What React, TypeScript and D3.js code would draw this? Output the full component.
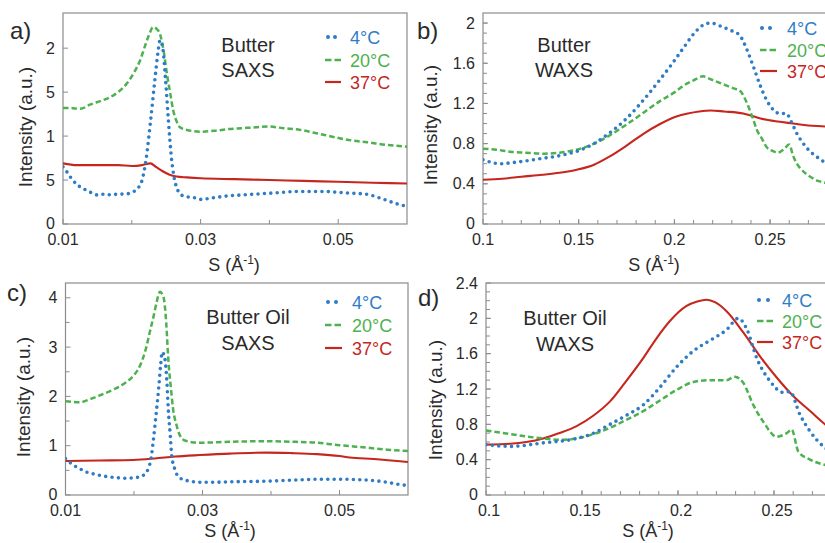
import React from 'react';
import * as d3 from 'd3';

type Pt = [number, number];

// ---------- Data (S in 1/Å, intensity in a.u.) ----------
const aBlue: Pt[] = [[0.0100,0.65],[0.0105,0.60],[0.0112,0.52],[0.0120,0.45],[0.0130,0.40],[0.0140,0.36],[0.0150,0.33],[0.0160,0.34],[0.0170,0.33],[0.0180,0.34],[0.0190,0.34],[0.0200,0.36],[0.0208,0.40],[0.0215,0.50],[0.0221,0.75],[0.0227,1.15],[0.0233,1.60],[0.0238,1.95],[0.0241,2.09],[0.0245,2.00],[0.0249,1.65],[0.0253,1.20],[0.0257,0.80],[0.0261,0.55],[0.0266,0.40],[0.0272,0.33],[0.0280,0.31],[0.0290,0.30],[0.0300,0.28],[0.0320,0.30],[0.0340,0.32],[0.0360,0.33],[0.0380,0.34],[0.0400,0.35],[0.0420,0.36],[0.0440,0.37],[0.0460,0.37],[0.0480,0.37],[0.0500,0.36],[0.0520,0.35],[0.0540,0.34],[0.0555,0.31],[0.0570,0.27],[0.0585,0.23],[0.0600,0.20]];
const aGreen: Pt[] = [[0.0100,1.32],[0.0110,1.32],[0.0125,1.31],[0.0140,1.36],[0.0155,1.40],[0.0168,1.44],[0.0180,1.50],[0.0193,1.60],[0.0203,1.72],[0.0212,1.86],[0.0219,2.02],[0.0225,2.15],[0.0231,2.24],[0.0236,2.22],[0.0241,2.16],[0.0246,1.98],[0.0251,1.71],[0.0256,1.48],[0.0260,1.30],[0.0265,1.17],[0.0270,1.10],[0.0280,1.07],[0.0300,1.05],[0.0320,1.06],[0.0340,1.08],[0.0360,1.09],[0.0380,1.10],[0.0397,1.11],[0.0420,1.09],[0.0445,1.07],[0.0470,1.03],[0.0493,0.99],[0.0520,0.95],[0.0542,0.93],[0.0570,0.90],[0.0600,0.88]];
const aRed: Pt[] = [[0.0100,0.69],[0.0120,0.67],[0.0150,0.67],[0.0180,0.67],[0.0200,0.66],[0.0215,0.67],[0.0227,0.69],[0.0235,0.65],[0.0245,0.60],[0.0255,0.56],[0.0265,0.54],[0.0280,0.53],[0.0300,0.52],[0.0350,0.51],[0.0400,0.50],[0.0450,0.49],[0.0500,0.48],[0.0550,0.47],[0.0600,0.46]];

const bBlue: Pt[] = [[0.100,0.64],[0.105,0.61],[0.109,0.60],[0.115,0.61],[0.123,0.63],[0.130,0.65],[0.140,0.68],[0.150,0.73],[0.158,0.80],[0.165,0.89],[0.175,1.05],[0.185,1.26],[0.193,1.45],[0.199,1.60],[0.205,1.76],[0.210,1.89],[0.215,1.98],[0.219,2.00],[0.224,1.97],[0.229,1.93],[0.234,1.88],[0.238,1.73],[0.241,1.58],[0.245,1.37],[0.248,1.24],[0.252,1.13],[0.255,1.10],[0.2585,1.10],[0.261,1.02],[0.264,0.90],[0.267,0.81],[0.271,0.72],[0.275,0.66],[0.278,0.62],[0.284,0.56]];
const bGreen: Pt[] = [[0.100,0.75],[0.107,0.74],[0.114,0.72],[0.122,0.71],[0.132,0.70],[0.140,0.71],[0.149,0.74],[0.158,0.80],[0.166,0.88],[0.175,0.99],[0.184,1.11],[0.193,1.23],[0.200,1.31],[0.205,1.38],[0.210,1.43],[0.215,1.47],[0.219,1.44],[0.223,1.41],[0.227,1.38],[0.231,1.35],[0.234,1.33],[0.238,1.20],[0.241,1.05],[0.243,0.94],[0.246,0.84],[0.248,0.77],[0.251,0.73],[0.254,0.71],[0.257,0.74],[0.260,0.79],[0.262,0.68],[0.264,0.60],[0.267,0.53],[0.271,0.47],[0.275,0.43],[0.279,0.41],[0.284,0.38]];
const bRed: Pt[] = [[0.100,0.44],[0.110,0.45],[0.120,0.47],[0.131,0.49],[0.140,0.51],[0.149,0.54],[0.158,0.59],[0.166,0.67],[0.175,0.78],[0.184,0.90],[0.192,0.99],[0.201,1.07],[0.207,1.10],[0.213,1.12],[0.219,1.13],[0.226,1.12],[0.236,1.10],[0.245,1.05],[0.254,1.02],[0.262,1.00],[0.270,0.98],[0.279,0.97],[0.284,0.96]];

const cBlue: Pt[] = [[0.0100,0.74],[0.0110,0.62],[0.0120,0.54],[0.0130,0.47],[0.0140,0.43],[0.0150,0.40],[0.0162,0.37],[0.0175,0.35],[0.0190,0.34],[0.0200,0.35],[0.0209,0.37],[0.0216,0.43],[0.0221,0.54],[0.0225,0.75],[0.0228,1.08],[0.0232,1.60],[0.0236,2.16],[0.0239,2.65],[0.0241,2.90],[0.0245,2.77],[0.0248,2.30],[0.0250,1.75],[0.0253,1.20],[0.0255,0.81],[0.0259,0.55],[0.0265,0.37],[0.0275,0.30],[0.0296,0.26],[0.0320,0.26],[0.0350,0.27],[0.0394,0.28],[0.0430,0.30],[0.0470,0.32],[0.0500,0.32],[0.0530,0.31],[0.0564,0.27],[0.0585,0.22],[0.0600,0.19]];
const cGreen: Pt[] = [[0.0100,1.90],[0.0121,1.88],[0.0135,1.94],[0.0150,2.02],[0.0170,2.14],[0.0189,2.29],[0.0200,2.43],[0.0209,2.63],[0.0217,2.95],[0.0223,3.30],[0.0229,3.65],[0.0233,3.91],[0.0238,4.12],[0.0241,4.08],[0.0244,3.95],[0.0247,3.50],[0.0250,2.77],[0.0254,2.15],[0.0257,1.75],[0.0262,1.42],[0.0267,1.21],[0.0275,1.10],[0.0296,1.06],[0.0340,1.08],[0.0394,1.09],[0.0430,1.08],[0.0467,1.06],[0.0500,1.01],[0.0540,0.96],[0.0570,0.92],[0.0600,0.89]];
const cRed: Pt[] = [[0.0100,0.69],[0.0150,0.70],[0.0199,0.71],[0.0230,0.74],[0.0260,0.78],[0.0296,0.81],[0.0340,0.84],[0.0394,0.86],[0.0430,0.85],[0.0467,0.83],[0.0500,0.79],[0.0515,0.76],[0.0550,0.73],[0.0600,0.67]];

const dBlue: Pt[] = [[0.100,0.57],[0.1125,0.55],[0.1298,0.59],[0.1472,0.64],[0.156,0.70],[0.1646,0.80],[0.173,0.90],[0.1819,1.02],[0.1906,1.22],[0.1993,1.45],[0.208,1.63],[0.2167,1.75],[0.2253,1.87],[0.2314,2.00],[0.2358,1.88],[0.241,1.55],[0.2479,1.29],[0.2549,1.16],[0.2583,1.17],[0.2635,0.91],[0.2688,0.72],[0.2757,0.55],[0.284,0.45]];
const dGreen: Pt[] = [[0.100,0.73],[0.1125,0.69],[0.1298,0.64],[0.1385,0.625],[0.1472,0.64],[0.156,0.69],[0.1646,0.76],[0.173,0.85],[0.1819,0.95],[0.1906,1.07],[0.1993,1.19],[0.208,1.28],[0.2167,1.30],[0.2253,1.30],[0.2295,1.34],[0.234,1.27],[0.2392,1.02],[0.2444,0.83],[0.2514,0.66],[0.2566,0.70],[0.2592,0.74],[0.2627,0.49],[0.2688,0.40],[0.2766,0.34],[0.284,0.31]];
const dRed: Pt[] = [[0.100,0.57],[0.1125,0.58],[0.121,0.60],[0.1298,0.64],[0.138,0.70],[0.1472,0.78],[0.156,0.90],[0.1646,1.06],[0.173,1.29],[0.1819,1.55],[0.189,1.78],[0.1958,1.97],[0.2045,2.14],[0.2100,2.19],[0.2150,2.21],[0.2195,2.18],[0.2253,2.08],[0.234,1.84],[0.2427,1.57],[0.2514,1.33],[0.260,1.12],[0.2688,0.95],[0.2766,0.80],[0.284,0.70]];

const legendLabels = ['4\u00B0C', '20\u00B0C', '37\u00B0C'];
const saxsXTicks = [0.01, 0.03, 0.05];
const saxsXLabels = ['0.01', '0.03', '0.05'];
const waxsXTicks = [0.1, 0.15, 0.2, 0.25];
const waxsXLabels = ['0.1', '0.15', '0.2', '0.25'];
const aYTicks = [0, 0.5, 1, 1.5, 2];
const aYLabels = ['0', '5', '1', '5', '2'];
const bYTicks = [0, 0.4, 0.8, 1.2, 1.6, 2];
const bYLabels = ['0', '0.4', '0.8', '1.2', '1.6', '2'];
const cYTicks = [0, 1, 2, 3, 4];
const cYLabels = ['0', '1', '2', '3', '4'];
const dYTicks = [0, 0.4, 0.8, 1.2, 1.6, 2, 2.4];
const dYLabels = ['0', '0.4', '0.8', '1.2', '1.6', '2', '2.4'];

const BLUE = '#2f7cc6';
const GREEN = '#4db14f';
const RED = '#c5271f';
const FONT = '"Liberation Sans", Arial, Helvetica, sans-serif';
const FRAME = '#8c8c8c';
const TXT = '#2a2a2a';

type Cfg = {
  id: string;
  label: string; labelX: number; labelY: number;
  left: number; right: number; top: number; bottom: number;
  xDomain: [number, number]; yDomain: [number, number];
  xTicks: number[]; xLabels: string[]; xMinor: number[]; xLabelShift: number;
  yTicks: number[]; yLabels: string[]; yMinor: number[];
  series: [Pt[], Pt[], Pt[]];
  title: [string, string]; titleX: number; titleY: [number, number];
  legX1: number; legX2: number; legDots: [number, number]; legTextX: number; legRows: [number, number, number];
  yTitleX: number; yTitleY: number; xTitleX: number; xTitleY: number;
};

const panels: Cfg[] = [
  {
    id: 'a', label: 'a)', labelX: 10, labelY: 39,
    left: 63, right: 407, top: 13, bottom: 224,
    xDomain: [0.01, 0.06], yDomain: [0, 2.4],
    xTicks: saxsXTicks, xLabels: saxsXLabels, xMinor: [0.02, 0.04], xLabelShift: 0,
    yTicks: aYTicks, yLabels: aYLabels, yMinor: [],
    series: [aBlue, aGreen, aRed],
    title: ['Butter', 'SAXS'], titleX: 248, titleY: [52, 77],
    legX1: 325, legX2: 341, legDots: [328, 335], legTextX: 350, legRows: [37, 60, 82],
    yTitleX: 25, yTitleY: 127, xTitleX: 234, xTitleY: 271,
  },
  {
    id: 'b', label: 'b)', labelX: 417, labelY: 39,
    left: 483, right: 865.8, top: 13, bottom: 224,
    xDomain: [0.1, 0.3], yDomain: [0, 2.1],
    xTicks: waxsXTicks, xLabels: waxsXLabels, xMinor: d3.range(0.11, 0.295, 0.01), xLabelShift: 0,
    yTicks: bYTicks, yLabels: bYLabels, yMinor: d3.range(0.1, 2.05, 0.1),
    series: [bBlue, bGreen, bRed],
    title: ['Butter', 'WAXS'], titleX: 564, titleY: [52, 77],
    legX1: 760, legX2: 777, legDots: [762, 770], legTextX: 787, legRows: [28, 50, 71],
    yTitleX: 430, yTitleY: 125, xTitleX: 654, xTitleY: 271,
  },
  {
    id: 'c', label: 'c)', labelX: 7, labelY: 301,
    left: 65.5, right: 408, top: 283, bottom: 495,
    xDomain: [0.01, 0.06], yDomain: [0, 4.3],
    xTicks: saxsXTicks, xLabels: saxsXLabels, xMinor: [0.02, 0.04], xLabelShift: 0,
    yTicks: cYTicks, yLabels: cYLabels, yMinor: [0.5, 1.5, 2.5, 3.5],
    series: [cBlue, cGreen, cRed],
    title: ['Butter Oil', 'SAXS'], titleX: 248, titleY: [324, 350],
    legX1: 325, legX2: 342, legDots: [328, 336], legTextX: 352, legRows: [302, 325, 348],
    yTitleX: 23, yTitleY: 397, xTitleX: 230, xTitleY: 537,
  },
  {
    id: 'd', label: 'd)', labelX: 418, labelY: 306,
    left: 486, right: 870, top: 283, bottom: 495,
    xDomain: [0.1, 0.3], yDomain: [0, 2.4],
    xTicks: waxsXTicks, xLabels: waxsXLabels, xMinor: d3.range(0.11, 0.295, 0.01), xLabelShift: 3,
    yTicks: dYTicks, yLabels: dYLabels, yMinor: d3.range(0.1, 2.35, 0.1),
    series: [dBlue, dGreen, dRed],
    title: ['Butter Oil', 'WAXS'], titleX: 565, titleY: [325, 351],
    legX1: 757, legX2: 773, legDots: [759, 768], legTextX: 782, legRows: [300, 321, 342],
    yTitleX: 435, yTitleY: 400, xTitleX: 648, xTitleY: 537,
  },
];

const colors = [BLUE, GREEN, RED];

function Panel({ c }: { c: Cfg }) {
  const x = d3.scaleLinear().domain(c.xDomain).range([c.left, c.right]);
  const y = d3.scaleLinear().domain(c.yDomain).range([c.bottom, c.top]);
  const line = d3.line<Pt>().x(d => x(d[0])).y(d => y(d[1])).curve(d3.curveMonotoneX);
  const clipId = 'clip-' + c.id;
  const tickLen = 5;
  const minorLen = 4;
  return (
    <g>
      <defs>
        <clipPath id={clipId}>
          <rect x={c.left} y={c.top} width={c.right - c.left} height={c.bottom - c.top} />
        </clipPath>
      </defs>
      <rect x={c.left} y={c.top} width={c.right - c.left} height={c.bottom - c.top} fill="#fff" stroke={FRAME} strokeWidth={1.2} />
      {c.xTicks.concat(c.xMinor).map((t, i) => (
        <line key={'xt' + i} x1={x(t)} x2={x(t)} y1={c.bottom} y2={c.bottom - (i < c.xTicks.length ? tickLen : minorLen)} stroke={FRAME} strokeWidth={1} />
      ))}
      {c.yTicks.concat(c.yMinor).map((t, i) => (
        <line key={'yt' + i} x1={c.left} x2={c.left + (i < c.yTicks.length ? tickLen : minorLen)} y1={y(t)} y2={y(t)} stroke={FRAME} strokeWidth={1} />
      ))}
      {c.xTicks.map((t, i) => (
        <text key={'xl' + i} x={x(t) + c.xLabelShift} y={c.bottom + 20.5} textAnchor="middle" fontSize={16} fill={TXT} fontFamily={FONT}>{c.xLabels[i]}</text>
      ))}
      {c.yTicks.map((t, i) => (
        <text key={'yl' + i} x={c.left - 8} y={y(t) - (i === 0 ? 1 : 0)} dy="0.35em" textAnchor="end" fontSize={16} fill={TXT} fontFamily={FONT}>{c.yLabels[i]}</text>
      ))}
      <g clipPath={`url(#${clipId})`}>
        <path d={line(c.series[2]) || ''} fill="none" stroke={RED} strokeWidth={2.1} />
        <path d={line(c.series[1]) || ''} fill="none" stroke={GREEN} strokeWidth={2.5} strokeDasharray="5.5 3" />
        <path d={line(c.series[0]) || ''} fill="none" stroke={BLUE} strokeWidth={3.6} strokeDasharray="0 6.4" strokeLinecap="round" />
      </g>
      <text x={c.titleX} y={c.titleY[0]} textAnchor="middle" fontSize={20} fill={TXT} fontFamily={FONT}>{c.title[0]}</text>
      <text x={c.titleX} y={c.titleY[1]} textAnchor="middle" fontSize={20} fill={TXT} fontFamily={FONT}>{c.title[1]}</text>
      {c.legDots.map((dx, i) => (
        <circle key={'ld' + i} cx={dx} cy={c.legRows[0]} r={2} fill={BLUE} />
      ))}
      <line x1={c.legX1} x2={c.legX2} y1={c.legRows[1]} y2={c.legRows[1]} stroke={GREEN} strokeWidth={2.5} strokeDasharray="6.5 3" />
      <line x1={c.legX1} x2={c.legX2} y1={c.legRows[2]} y2={c.legRows[2]} stroke={RED} strokeWidth={2.2} />
      {legendLabels.map((l, i) => (
        <text key={'lt' + i} x={c.legTextX} y={c.legRows[i] + 6.5} fontSize={18} fill={colors[i]} fontFamily={FONT}>{l}</text>
      ))}
      <text x={c.labelX} y={c.labelY} fontSize={24} fill={TXT} fontFamily={FONT}>{c.label}</text>
      <text transform={`translate(${c.yTitleX},${c.yTitleY}) rotate(-90)`} textAnchor="middle" dy="0.35em" fontSize={19} fill={TXT} fontFamily={FONT}>Intensity (a.u.)</text>
      <text x={c.xTitleX} y={c.xTitleY} textAnchor="middle" fontSize={18} fill={TXT} fontFamily={FONT}>
        S (Å<tspan fontSize={12} dy={-7}>-1</tspan><tspan dy={7}>)</tspan>
      </text>
    </g>
  );
}

export default function App() {
  return (
    <svg width={825} height={543} style={{ position: 'absolute', left: 0, top: 0, background: '#fff' }}>
      <rect x={0} y={0} width={825} height={543} fill="#fff" />
      {panels.map(p => <Panel key={p.id} c={p} />)}
    </svg>
  );
}
